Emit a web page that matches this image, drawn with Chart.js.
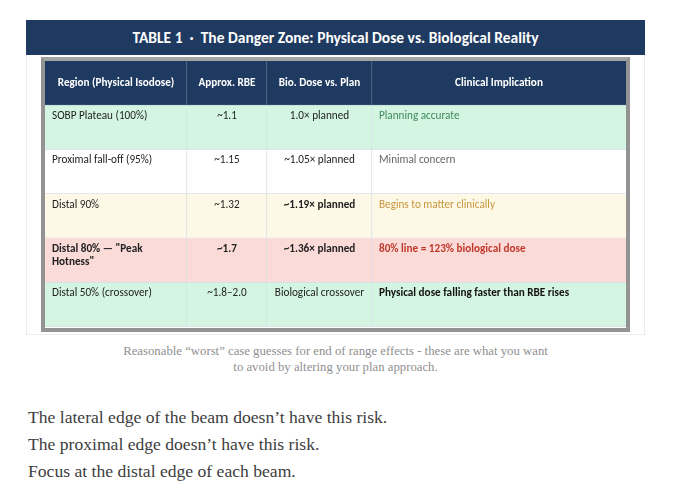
<!DOCTYPE html>
<html>
<head>
<meta charset="utf-8">
<script src="https://cdn.jsdelivr.net/npm/chart.js@4.4.1/dist/chart.umd.min.js"></script>
<style>
  body { margin: 0; background: #fff; width: 680px; height: 492px; overflow: hidden; position: relative; }
  #panel { position: absolute; left: 26px; top: 20px; width: 619px; height: 315px; box-sizing: border-box;
           border: 1px solid #e9ecf1; border-top: none; }
  #title { position: absolute; left: 26px; top: 20px; width: 619px; height: 35px; background: #1f3a60;
           color: #fff; font: bold 15.5px Carlito, Lato, sans-serif; text-align: center; line-height: 35px; white-space: pre; }
  #frame { position: absolute; left: 41px; top: 57px; width: 589px; height: 275px; box-sizing: border-box;
           border: 4px solid #939393; border-top-color: #a3a3a3; }
  #wrap { position: absolute; left: 45px; top: 61px; width: 581px; height: 266px; }
  #caption { position: absolute; left: 0; top: 343px; width: 671px; text-align: center; color: #8f8f8f;
             font: 12.75px "Liberation Serif", serif; line-height: 16px; }
  #body { position: absolute; left: 28px; top: 404px; color: #3d3d3d; font: 17.6px "Liberation Serif", serif; line-height: 27px; }
</style>
</head>
<body>
<div id="panel"></div>
<div id="title">TABLE 1  ·  The Danger Zone: Physical Dose vs. Biological Reality</div>
<div id="frame"></div>
<div id="wrap"><canvas id="table"></canvas></div>
<div id="caption">Reasonable “worst” case guesses for end of range effects - these are what you want<br>to avoid by altering your plan approach.</div>
<div id="body">The lateral edge of the beam doesn’t have this risk.<br>The proximal edge doesn’t have this risk.<br>Focus at the distal edge of each beam.</div>
<script>
// table content
var columns = ["Region (Physical Isodose)", "Approx. RBE", "Bio. Dose vs. Plan", "Clinical Implication"];
var regions = ["SOBP Plateau (100%)", "Proximal fall-off (95%)", "Distal 90%", "Distal 80% — \"Peak Hotness\"", "Distal 50% (crossover)"];
var rbe = ["~1.1", "~1.15", "~1.32", "~1.7", "~1.8–2.0"];
var bioDose = ["1.0× planned", "~1.05× planned", "~1.19× planned", "~1.36× planned", "Biological crossover"];
var implication = ["Planning accurate", "Minimal concern", "Begins to matter clinically", "80% line = 123% biological dose", "Physical dose falling faster than RBE rises"];

// layout / style (kept apart from the content)
var colWidths = [142, 80, 105, 254];
var headerBg = "#1f3a60";
var rowBg = ["#d5f5e3", "#ffffff", "#fef9e7", "#fadbd8", "#d5f5e3"];
var implColor = ["#3f8a5c", "#666666", "#c8963e", "#c0392b", "#111111"];
var boldCells = { "2,2": true, "3,0": true, "3,1": true, "3,2": true, "3,3": true, "4,3": true };
var FONT = "Carlito, Lato, sans-serif";

var cellText = [regions, rbe, bioDose, implication];
var labels = ["header"].concat(regions);

var datasets = columns.map(function (name, c) {
  return {
    label: name,
    data: labels.map(function () { return colWidths[c]; }),
    backgroundColor: [headerBg].concat(rowBg),
    borderColor: ["#5d7392"].concat(rowBg.map(function () { return "#d8dfe8"; })),
    borderWidth: { right: c < columns.length - 1 ? 1 : 0, bottom: 1, top: 0, left: 0 },
    borderSkipped: false,
    barPercentage: 1,
    categoryPercentage: 1
  };
});

function wrap(ctx, text, maxW) {
  var words = text.split(" "), lines = [], cur = "";
  words.forEach(function (w) {
    var t = cur ? cur + " " + w : w;
    if (cur && ctx.measureText(t).width > maxW) { lines.push(cur); cur = w; } else { cur = t; }
  });
  lines.push(cur);
  return lines;
}

var cellTextPlugin = {
  id: "cellText",
  afterDatasetsDraw: function (chart) {
    var ctx = chart.ctx;
    ctx.save();
    ctx.textBaseline = "middle";
    chart.data.datasets.forEach(function (ds, c) {
      chart.getDatasetMeta(c).data.forEach(function (el, i) {
        var p = el.getProps(["x", "base", "y", "height"], true);
        var left = Math.min(p.x, p.base), right = Math.max(p.x, p.base);
        var top = p.y - p.height / 2;
        var centered = c === 1 || c === 2;
        var text, bold, color, ty;
        if (i === 0) {
          text = columns[c]; bold = true; color = "#ffffff"; ty = p.y;
          centered = true;
        } else {
          var r = i - 1;
          text = cellText[c][r];
          bold = !!boldCells[r + "," + c];
          color = c === 3 ? implColor[r] : "#222222";
          ty = top + 11;
        }
        ctx.font = (bold ? "bold " : "") + "11.2px " + FONT;
        ctx.fillStyle = color;
        ctx.textAlign = centered ? "center" : "left";
        var lines = wrap(ctx, text, right - left - 14);
        lines.forEach(function (ln, k) {
          ctx.fillText(ln, centered ? (left + right) / 2 : left + 7, ty + k * 13);
        });
      });
    });
    ctx.restore();
  }
};

new Chart(document.getElementById("table").getContext("2d"), {
  type: "bar",
  data: { labels: labels, datasets: datasets },
  options: {
    indexAxis: "y",
    responsive: true,
    maintainAspectRatio: false,
    animation: false,
    layout: { padding: 0 },
    scales: {
      x: { type: "linear", stacked: true, min: 0, max: colWidths.reduce(function (a, b) { return a + b; }, 0), display: false },
      y: { type: "category", stacked: true, display: false }
    },
    plugins: { legend: { display: false }, tooltip: { enabled: false } }
  },
  plugins: [cellTextPlugin]
});
</script>
</body>
</html>
